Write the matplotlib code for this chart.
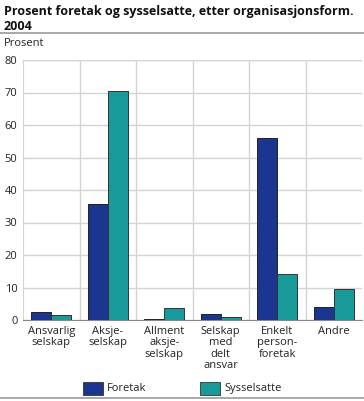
import numpy as np
import matplotlib.pyplot as plt
from matplotlib.patches import Rectangle
from matplotlib.lines import Line2D

plt.rcParams['font.family'] = ['Open Sans', 'DejaVu Sans']

categories = ["Ansvarlig\nselskap", "Aksje-\nselskap", "Allment\naksje-\nselskap",
              "Selskap\nmed\ndelt\nansvar", "Enkelt\nperson-\nforetak", "Andre"]
foretak = [2.4, 35.7, 0.2, 1.8, 55.9, 3.9]
sysselsatte = [1.4, 70.5, 3.6, 1.0, 14.2, 9.4]
series_names = ["Foretak", "Sysselsatte"]
yticks = [0, 10, 20, 30, 40, 50, 60, 70, 80]

blue = "#1c3591"
teal = "#179a99"
grid_col = "#d4d4d4"

W, H = 364, 401
fig = plt.figure(figsize=(W / 100, H / 100), dpi=100)

ax = fig.add_axes([23 / W, (H - 320) / H, (362 - 23) / W, 260 / H])
x = np.arange(len(categories))
bw = 0.355
ax.bar(x - bw / 2, foretak, bw, color=blue, edgecolor="#222222", linewidth=0.7, zorder=3)
ax.bar(x + bw / 2, sysselsatte, bw, color=teal, edgecolor="#333333", linewidth=0.7, zorder=3)

ax.set_xlim(-0.5, len(categories) - 0.5)
ax.set_ylim(0, 80)
ax.set_yticks(yticks)
ax.set_yticklabels([str(v) for v in yticks], fontsize=8, color="#222222")
ax.set_xticks(x)
ax.set_xticklabels(categories, fontsize=8, color="#222222", linespacing=1.08)
ax.tick_params(axis="x", length=0, pad=4)
ax.tick_params(axis="y", length=0, pad=4)
ax.yaxis.grid(True, color=grid_col, linewidth=1.0, zorder=0)
for b in np.arange(0.5, len(categories) - 0.5, 1):
    ax.axvline(b, color=grid_col, linewidth=1.0, zorder=0)
for s in ["top", "right"]:
    ax.spines[s].set_visible(False)
ax.spines["left"].set_color(grid_col)
ax.spines["bottom"].set_color("#888888")
ax.axhline(80, color=grid_col, linewidth=1.0, zorder=0)

fig.text(4 / W, 1 - 19 / H, "Prosent foretak og sysselsatte, etter organisasjonsform.\n2004",
         fontsize=9.0, fontweight="bold", va="center", ha="left", linespacing=1.2, color="#111111")
fig.add_artist(Line2D([0, 1], [1 - 33 / H, 1 - 33 / H], color="#999999", linewidth=1.2))
fig.text(4 / W, 1 - 44 / H, "Prosent", fontsize=8, va="center", ha="left", color="#222222")
fig.add_artist(Line2D([0, 1], [1 - 398 / H, 1 - 398 / H], color="#999999", linewidth=1.2))

# legend
for name, col, bx in [(series_names[0], blue, 83), (series_names[1], teal, 200)]:
    fig.add_artist(Rectangle((bx / W, 1 - 395 / H), 20 / W, 13 / H, facecolor=col,
                             edgecolor="#333333", linewidth=0.6, transform=fig.transFigure))
    fig.text((bx + 24) / W, 1 - 388.5 / H, name, fontsize=8, va="center", ha="left", color="#222222")

fig.savefig("out.png", dpi=100)
